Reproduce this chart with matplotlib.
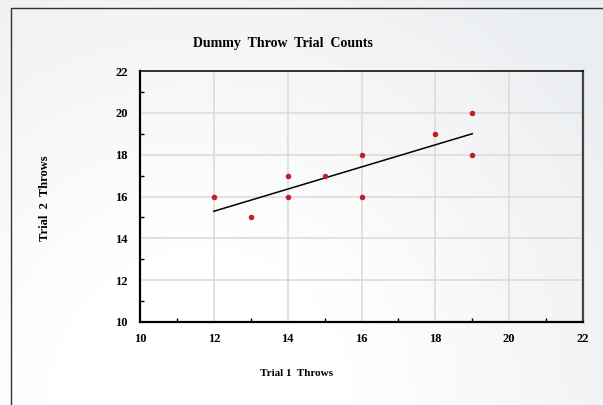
import numpy as np
import matplotlib.pyplot as plt
from matplotlib.lines import Line2D

# data
trial1 = [12, 13, 14, 14, 15, 16, 16, 18, 19, 19]
trial2 = [16, 15, 17, 16, 17, 18, 16, 19, 20, 18]
ticks = [10, 12, 14, 16, 18, 20, 22]

W, H = 603, 405
plt.rcParams['font.family'] = ['Liberation Serif', 'DejaVu Serif']
plt.rcParams['font.weight'] = 'bold'

fig = plt.figure(figsize=(W / 100, H / 100), dpi=100)

# soft radial background
bg = fig.add_axes([0, 0, 1, 1], zorder=-5)
yy, xx = np.mgrid[0:H, 0:W]
r = np.hypot(xx - 200, yy - 400)
t = np.clip((r - 150) / 350, 0, 1)
c0 = np.array([1.0, 1.0, 1.0])
c1 = np.array([0.925, 0.935, 0.945])
img = c0[None, None, :] * (1 - t[..., None]) + c1[None, None, :] * t[..., None]
bg.imshow(img, extent=[0, W, H, 0], aspect='auto')
bg.set_xlim(0, W)
bg.set_ylim(H, 0)
bg.axis('off')

# outer frame (only top and left visible)
fig.add_artist(Line2D([11 / W, 11 / W, 1.0], [0.0, 1 - 8 / H, 1 - 8 / H],
                      transform=fig.transFigure, color='#333333', lw=1.0))

ax = fig.add_axes([140 / W, 1 - 322 / H, 443 / W, 251 / H])
ax.set_facecolor('none')

ax.scatter(trial1, trial2, s=16, color='#c0202a', zorder=3, linewidths=0)
k, b = np.polyfit(trial1, trial2, 1)
xs = np.array([min(trial1), max(trial1)])
ax.plot(xs, k * xs + b, color='black', lw=1.1, zorder=2)

ax.set_xlim(10, 22)
ax.set_ylim(10, 22)
ax.set_xticks(ticks)
ax.set_yticks(ticks)
ax.set_xticks(range(11, 22, 2), minor=True)
ax.set_yticks(range(11, 22, 2), minor=True)
ax.grid(True, which='major', color='#dcdcdc', lw=1.2, zorder=0)
ax.tick_params(which='major', length=0, pad=9, labelsize=9)
ax.tick_params(which='minor', direction='in', length=3, width=1, color='black')
ax.tick_params(axis='x', which='major', pad=8)
for lab in ax.get_xticklabels() + ax.get_yticklabels():
    lab.set_fontweight('bold')

ax.spines['left'].set_linewidth(1.6)
ax.spines['bottom'].set_linewidth(1.6)
ax.spines['top'].set_linewidth(1.1)
ax.spines['right'].set_linewidth(1.6)
ax.spines['right'].set_color('#444444')

fig.text(283 / W, 1 - 43 / H, 'Dummy  Throw  Trial  Counts', ha='center', va='center',
         fontsize=10, fontweight='bold')
fig.text(297 / W, 1 - 373 / H, 'Trial 1  Throws', ha='center', va='center',
         fontsize=8, fontweight='bold')
fig.text(45 / W, 1 - 198 / H, 'Trial  2  Throws', ha='center', va='center',
         rotation=90, fontsize=9, fontweight='bold')

fig.savefig('out.png', dpi=100)
